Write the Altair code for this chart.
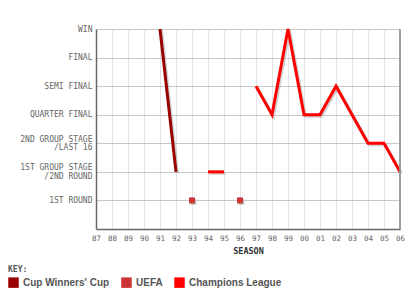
import altair as alt
import pandas as pd

# ---- data ----
competitions = ["Cup Winners' Cup", "UEFA", "Champions League"]
colors = ["#990000", "#cc3333", "#ff0000"]

cwc_seasons = [91, 92]
cwc_levels = [7, 2]

uefa_seasons = [93, 96]
uefa_levels = [1, 1]

cl_seasons = [94, 95, 97, 98, 99, 100, 101, 102, 103, 104, 105, 106]
cl_levels = [2, 2, 5, 4, 7, 4, 4, 5, 4, 3, 3, 2]

season_ticks = list(range(87, 107))
season_labels = ["87", "88", "89", "90", "91", "92", "93", "94", "95", "96",
                 "97", "98", "99", "00", "01", "02", "03", "04", "05", "06"]
level_ticks = [1, 2, 3, 4, 5, 6, 7]
level_labels = ["1ST ROUND", "1ST GROUP STAGE|/2ND ROUND", "2ND GROUP STAGE|/LAST 16",
                "QUARTER FINAL", "SEMI FINAL", "FINAL", "WIN"]

# ---- tables ----
def segments(seasons):
    seg, out = 0, []
    for i, s in enumerate(seasons):
        if i > 0 and s - seasons[i - 1] > 1:
            seg += 1
        out.append(seg)
    return out

lines = pd.concat([
    pd.DataFrame({"season": cwc_seasons, "level": cwc_levels,
                  "comp": competitions[0], "seg": "a0"}),
    pd.DataFrame({"season": cl_seasons, "level": cl_levels,
                  "comp": competitions[2],
                  "seg": ["c%d" % s for s in segments(cl_seasons)]}),
])
points = pd.DataFrame({"season": uefa_seasons, "level": uefa_levels,
                       "comp": competitions[1]})

x_expr = "[" + ",".join("'%s'" % l for l in season_labels) + "][datum.value-87]"
y_expr = ("split([" + ",".join("'%s'" % l for l in level_labels) +
          "][datum.value-1], '|')")

FONT = "DejaVu Sans Mono"

x_scale = alt.Scale(domain=[87, 106], nice=False, zero=False)
x_axis = alt.Axis(values=season_ticks, labelExpr=x_expr, title="SEASON",
                  grid=True, gridColor="#e4e4e4", gridWidth=1,
                  ticks=False, domainColor="#666666", domainWidth=1.5,
                  labelFont=FONT, labelFontSize=7.5, labelColor="#666666",
                  labelPadding=5, labelFlush=False, labelOverlap=False,
                  titleFont=FONT, titleFontSize=8.5, titleFontWeight="bold",
                  titleColor="#333333", titlePadding=5)
x = alt.X("season:Q", scale=x_scale, axis=x_axis)
y = alt.Y("level:Q", scale=alt.Scale(domain=[0, 7], nice=False),
          axis=alt.Axis(values=level_ticks, labelExpr=y_expr, title=None,
                        grid=True, gridColor="#c8c8c8", gridWidth=1,
                        ticks=False, domainColor="#666666", domainWidth=1.5,
                        labelFont=FONT, labelFontSize=8, labelColor="#666666",
                        labelPadding=4, labelLineHeight=8.5, labelOverlap=False,
                        labelOffset={"condition": {"test": "datum.value == 2 || datum.value == 3",
                                                   "value": -4}, "value": 0}))

color = alt.Color("comp:N", scale=alt.Scale(domain=competitions, range=colors),
                  legend=alt.Legend(title="KEY:", orient="none", direction="horizontal",
                                    legendX=-88, legendY=237, symbolType="square",
                                    symbolSize=110, symbolStrokeWidth=0,
                                    labelFont="Liberation Sans", labelFontSize=10,
                                    labelFontWeight="bold", labelColor="#555555",
                                    titleFont=FONT, titleFontSize=8,
                                    titleFontWeight="bold", titleColor="#555555",
                                    titlePadding=3, columnPadding=11, labelOffset=4))

base_pts = alt.Chart(points)
base_lines = alt.Chart(lines)

pt_shadow = base_pts.mark_square(size=36, color="#999999", opacity=0.5,
                                 xOffset=1.5, yOffset=1.5).encode(x=x, y=y)
pts = base_pts.mark_square(size=36, opacity=1, filled=True).encode(x=x, y=y, color=color)

ln_shadow = base_lines.mark_line(strokeWidth=3, color="#999999", opacity=0.45,
                                 xOffset=1.5, yOffset=1.5).encode(
    x=x, y=y, detail="seg:N", order="season:Q")
lns = base_lines.mark_line(strokeWidth=3).encode(
    x=x, y=y, color=alt.Color("comp:N", scale=alt.Scale(domain=competitions, range=colors),
                              legend=None),
    detail="seg:N", order="season:Q")

right_border = alt.Chart(points).mark_rule(color="#999999", strokeWidth=1.5).encode(
    x=alt.XDatum(season_ticks[-1], type="quantitative", scale=x_scale, axis=x_axis),
    y=alt.value(0), y2=alt.value(200))

chart = alt.layer(pt_shadow, pts, ln_shadow, lns, right_border).properties(
    width=304, height=200,
    autosize=alt.AutoSizeParams(type="none"),
    padding={"left": 96, "top": 29, "right": 16, "bottom": 71},
).configure_view(stroke=None).configure(background="white")

chart.save("out.html", embed_options={"renderer": "svg", "actions": False})
